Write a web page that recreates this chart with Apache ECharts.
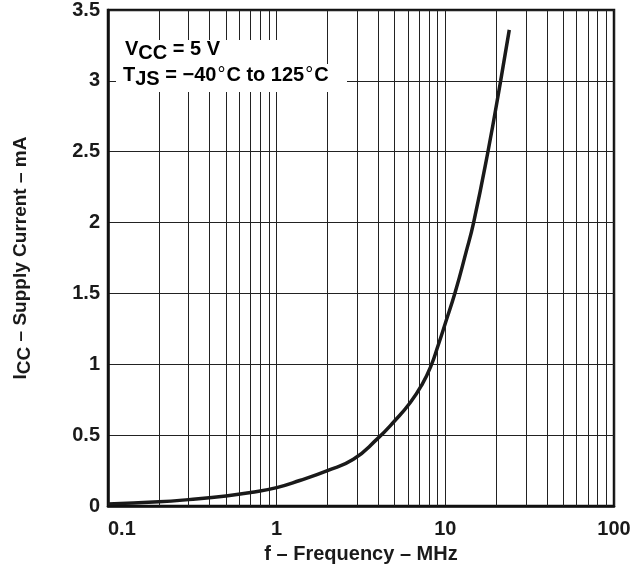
<!DOCTYPE html>
<html><head><meta charset="utf-8">
<script src="https://cdn.jsdelivr.net/npm/echarts@6/dist/echarts.min.js"></script>
<style>html,body{margin:0;padding:0;background:#fff}#c{width:643px;height:584px}</style>
</head><body><div id="c"></div>
<script>
// Data
const freqMHz = [0.1, 0.2, 0.3, 0.5, 0.7, 1, 1.37, 2, 2.85, 3.92, 5, 6.2, 7.3, 8.2, 9.1, 10, 11.45, 13.26, 14.71, 17.89, 21.28, 23.94];
const supplyCurrentMA = [0.015, 0.03, 0.045, 0.07, 0.095, 0.13, 0.18, 0.25, 0.33, 0.47, 0.6, 0.73, 0.86, 0.985, 1.14, 1.29, 1.51, 1.79, 2.0, 2.5, 3.0, 3.36];
const xTickValues = [0.1, 1, 10, 100];
const yTickValues = [0, 0.5, 1, 1.5, 2, 2.5, 3, 3.5];
const minorGridFreq = [0.2,0.3,0.4,0.5,0.6,0.7,0.8,0.9, 2,3,4,5,6,7,8,9, 20,30,40,50,60,70,80,90];

const FONT = '"Liberation Sans", Arial, Helvetica, sans-serif';
const chart = echarts.init(document.getElementById('c'), null, {renderer: 'canvas'});
const textBase = {fontFamily: FONT, fontWeight: 'bold', fontSize: 20, color: '#1a1a1a'};
const sub = Object.assign({}, textBase, {padding: [8, 0, 0, 0]});
const deg = Object.assign({}, textBase, {fontSize: 20, fontWeight: 'normal', padding: [0, 1, 0, 1]});
chart.setOption({
  animation: false,
  backgroundColor: '#fff',
  grid: {left: 108, right: 29, top: 6, bottom: 78, show: true, borderColor: '#111', borderWidth: 2.5, backgroundColor: 'transparent'},
  xAxis: {
    type: 'log', logBase: 10, min: xTickValues[0], max: xTickValues[xTickValues.length - 1],
    name: 'f – Frequency – MHz', nameLocation: 'middle', nameGap: 38,
    nameTextStyle: Object.assign({}, textBase),
    axisLine: {show: true, lineStyle: {color: '#111', width: 2.5}},
    axisTick: {show: false},
    axisLabel: Object.assign({}, textBase, {margin: 13, alignMinLabel: 'left', formatter: v => String(v)}),
    splitLine: {show: true, lineStyle: {color: '#222', width: 1}}
  },
  yAxis: {
    type: 'value', min: yTickValues[0], max: yTickValues[yTickValues.length - 1], interval: 0.5,
    name: '{n|I}{s|CC}{n| – Supply Current – mA}', nameLocation: 'middle', nameGap: 74,
    nameTextStyle: {rich: {n: Object.assign({}, textBase, {fontSize: 19}), s: Object.assign({}, sub, {fontSize: 19})}},
    axisLine: {show: true, lineStyle: {color: '#111', width: 2.5}},
    axisTick: {show: false},
    axisLabel: Object.assign({}, textBase, {margin: 8, formatter: v => String(v)}),
    splitLine: {show: true, lineStyle: {color: '#222', width: 1}}
  },
  graphic: [
    {type: 'rect', z: 99, shape: {x: 110, y: 40, width: 172, height: 24}, style: {fill: '#fff'}},
    {type: 'rect', z: 99, shape: {x: 116, y: 64, width: 231, height: 28}, style: {fill: '#fff'}},
    {type: 'text', left: 125, top: 39, z: 100,
     style: {text: '{n|V}{s|CC}{n| = 5 V}', rich: {n: Object.assign({}, textBase), s: sub}}},
    {type: 'text', left: 123, top: 65, z: 100,
     style: {text: '{n|T}{s|JS}{n| = −40}{d|°}{n|C to 125}{d|°}{n|C}', rich: {n: Object.assign({}, textBase), s: sub, d: deg}}}
  ],
  series: [{
    type: 'line', smooth: 0.5, symbol: 'none',
    data: freqMHz.map((f, i) => [f, supplyCurrentMA[i]]),
    lineStyle: {color: '#1a1a1a', width: 3.5},
    z: 5,
    markLine: {
      silent: true, symbol: ['none', 'none'], label: {show: false},
      lineStyle: {color: '#222', width: 1, type: 'solid'},
      data: minorGridFreq.map(f => ({xAxis: f}))
    }
  }]
});
</script></body></html>
